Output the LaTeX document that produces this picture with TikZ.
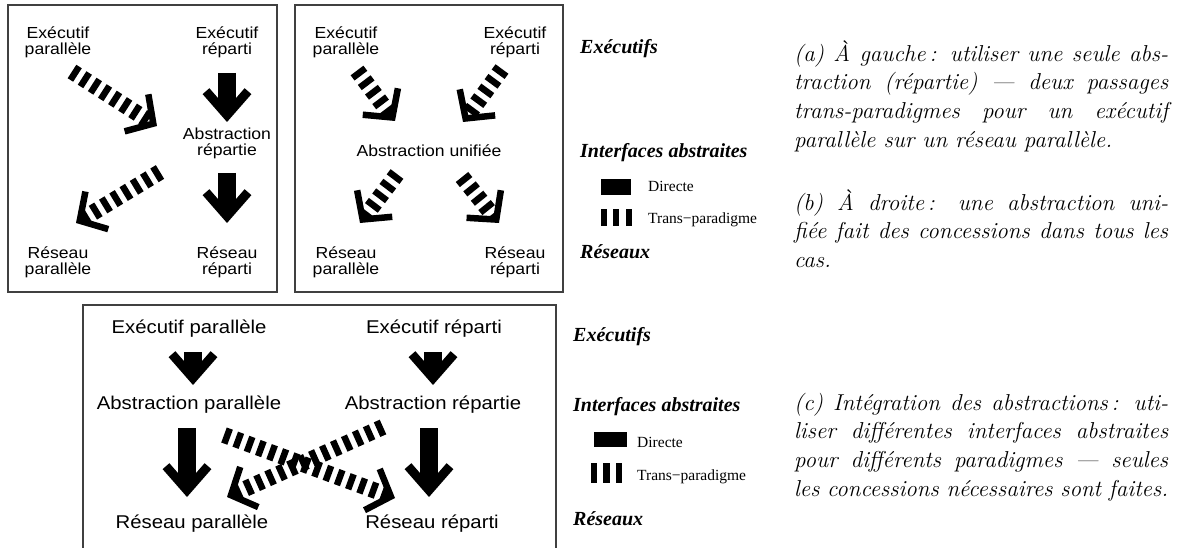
\documentclass[tikz,border=0pt]{standalone}
\usepackage{fontspec}
\newfontfamily\diagfont[FakeStretch=1.1]{Liberation Sans}
\newfontfamily\legfont{Liberation Serif}
\usetikzlibrary{arrows.meta}
\tikzset{
 frame/.style={draw=black!75, line width=1.2pt},
 lab/.style={inner sep=0pt, align=center, font=\diagfont\fontsize{16}{16}\selectfont},
 labb/.style={inner sep=0pt, anchor=base, font=\diagfont\fontsize{16}{16}\selectfont},
 labc/.style={inner sep=0pt, anchor=base, font=\diagfont\fontsize{18.5}{18.5}\selectfont},
 solidarrow/.style={line width=18pt, -{Straight Barb[length=24pt,width=42pt,line width=9pt]}},
 transarrow/.style={line width=16pt, dash pattern=on 6.5pt off 5.5pt, -{Straight Barb[length=20pt,width=44pt,line width=6.5pt]}},
 leghead/.style={inner sep=0pt, anchor=base west, font=\legfont\bfseries\itshape\fontsize{20}{20}\selectfont},
 legitem/.style={inner sep=0pt, anchor=base west, font=\legfont\fontsize{15.5}{15.5}\selectfont},
 captionbox/.style={inner sep=0pt, anchor=north west, text width=374pt, align=justify, font=\itshape\fontsize{23}{28.7}\selectfont},
}
\begin{document}
\begin{tikzpicture}[x=1pt,y=-1pt]
\useasboundingbox (0,0) rectangle (1177,548);
% frames
\draw[frame] (8,5) rectangle (277,292);
\draw[frame] (295,5) rectangle (563,292);
\draw[frame] (83,560) -- (83,305) -- (556,305) -- (556,560);

% ---------- (a) ----------
\node[lab] (a_ep) at (58,42.5) {Exécutif\\parallèle};
\node[lab] (a_er) at (227,42.5) {Exécutif\\réparti};
\node[lab] (a_ab) at (227,143.5) {Abstraction\\répartie};
\node[lab] (a_rp) at (58,262.5) {Réseau\\parallèle};
\node[lab] (a_rr) at (227,262.5) {Réseau\\réparti};
\draw[solidarrow] ([shift={(0,30.5)}]a_er.center) -- ([shift={(0,-21.5)}]a_ab.center);
\draw[solidarrow] ([shift={(0,29.5)}]a_ab.center) -- ([shift={(0,-39.5)}]a_rr.center);
\draw[transarrow] ([shift={(14,29)}]a_ep.center) -- ([shift={(-70,-17.5)}]a_ab.center);
\draw[transarrow] ([shift={(-67,28.5)}]a_ab.center) -- ([shift={(18,-39.5)}]a_rp.center);

% ---------- (b) ----------
\node[lab] (b_ep) at (346,42.5) {Exécutif\\parallèle};
\node[lab] (b_er) at (515,42.5) {Exécutif\\réparti};
\node[labb] (b_ab) at (429,157) {Abstraction unifiée};
\node[lab] (b_rp) at (346,262.5) {Réseau\\parallèle};
\node[lab] (b_rr) at (515,262.5) {Réseau\\réparti};
\draw[transarrow] ([shift={(11,28)}]b_ep.center) -- ([shift={(-34,-36)}]b_ab.base);
\draw[transarrow] ([shift={(-13,26.5)}]b_er.center) -- ([shift={(34,-35)}]b_ab.base);
\draw[transarrow] ([shift={(-32,17)}]b_ab.base) -- ([shift={(14,-39.5)}]b_rp.center);
\draw[transarrow] ([shift={(33,20)}]b_ab.base) -- ([shift={(-16,-39.5)}]b_rr.center);

% ---------- (c) ----------
\node[labc] (c_ep) at (189,333) {Exécutif parallèle};
\node[labc] (c_er) at (434,333) {Exécutif réparti};
\node[labc] (c_ap) at (189,409.5) {Abstraction parallèle};
\node[labc] (c_ar) at (433,409.5) {Abstraction répartie};
\node[labc] (c_rp) at (192,528) {Réseau parallèle};
\node[labc] (c_rr) at (432,528) {Réseau réparti};
\draw[solidarrow] ([shift={(4,19)}]c_ep.base) -- ([shift={(4,-24.5)}]c_ap.base);
\draw[solidarrow] ([shift={(-1,19)}]c_er.base) -- ([shift={(0,-24.5)}]c_ar.base);
\draw[solidarrow] ([shift={(-2,18.5)}]c_ap.base) -- ([shift={(-5,-31)}]c_rp.base);
\draw[solidarrow] ([shift={(-4,18.5)}]c_ar.base) -- ([shift={(-3,-31)}]c_rr.base);
\draw[transarrow] ([shift={(35,25.5)}]c_ap.base) -- ([shift={(-37,-30)}]c_rr.base);
\draw[transarrow] ([shift={(-50,17.5)}]c_ar.base) -- ([shift={(35,-31)}]c_rp.base);

% ---------- legends ----------
\node[leghead] (l1e) at (580,53.5) {Exécutifs};
\node[leghead] (l1i) at (580,157.5) {Interfaces abstraites};
\fill (601,179) rectangle (631,195);
\node[legitem] (l1d) at (648,191.5) {Directe};
\fill (601,209) rectangle (607,226);
\fill (613,209) rectangle (619,226);
\fill (626,209) rectangle (632,226);
\node[legitem] (l1t) at (648,223.5) {Trans−paradigme};
\node[leghead] (l1r) at (580,258) {Réseaux};

\node[leghead] (l2e) at (573,341) {Exécutifs};
\node[leghead] (l2i) at (573,411) {Interfaces abstraites};
\fill (594,432) rectangle (627,447);
\node[legitem] (l2d) at (637,447) {Directe};
\fill (591,463) rectangle (597,483);
\fill (603,463) rectangle (610,483);
\fill (616,463) rectangle (622,483);
\node[legitem] (l2t) at (637,480) {Trans−paradigme};
\node[leghead] (l2r) at (573,525) {Réseaux};

% ---------- captions ----------
\node[captionbox] (capa) at (794,38) {\hyphenpenalty=10000\exhyphenpenalty=10000\tolerance=9999\rule{0pt}{23pt}(a) À gauche\,: utiliser une seule abs-\linebreak traction (répartie) — deux passages\linebreak trans-paradigmes pour un exécutif\linebreak parallèle sur un réseau parallèle.};
\node[captionbox] (capb) at (794,187) {\hyphenpenalty=10000\exhyphenpenalty=10000\tolerance=9999\rule{0pt}{23pt}(b) À droite\,: une abstraction uni-\linebreak fiée fait des concessions dans tous les\linebreak cas.};
\node[captionbox] (capc) at (794,387) {\hyphenpenalty=10000\exhyphenpenalty=10000\tolerance=9999\rule{0pt}{23pt}(c) Intégration des abstractions\,: uti-\linebreak liser différentes interfaces abstraites\linebreak pour différents paradigmes — seules\linebreak les concessions nécessaires sont faites.};
\end{tikzpicture}
\end{document}
